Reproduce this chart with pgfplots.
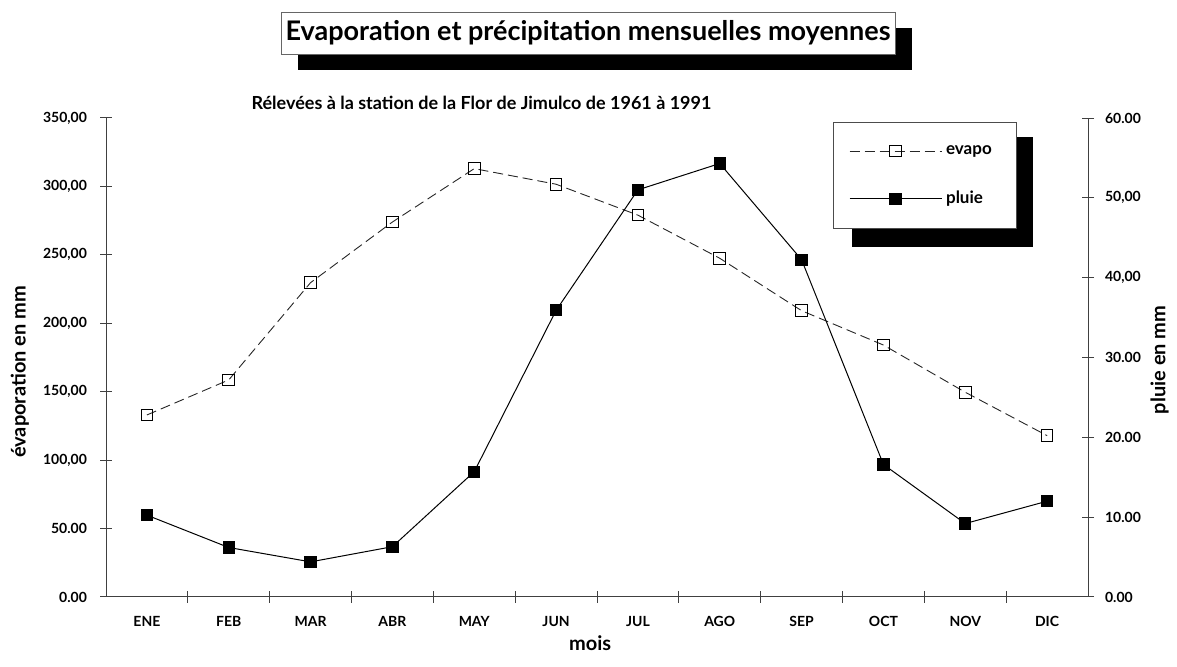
\documentclass[border=0pt]{standalone}
\usepackage{fontspec}
\setmainfont{Lato}
\usepackage{pgfplots}
\pgfplotsset{compat=1.18}
\usetikzlibrary{shadows}

\pgfplotsset{
  base/.style={
    scale only axis, width=491pt, height=239.5pt,
    xmin=-0.5, xmax=11.5,
    at={(53pt,35pt)}, anchor=south west,
    tick align=center, major tick length=6pt, minor tick length=6pt,
    axis line style={black!75, line width=0.5pt},
    tick style={black!75, line width=0.5pt},
    tick label style={font=\bfseries\fontsize{7}{8}\selectfont},
  },
  evapostyle/.style={black!85, line width=0.45pt, dash pattern=on 5pt off 2.5pt,
    mark=square, mark size=2.9pt, mark options={solid, fill=white, draw=black, line width=0.5pt}},
  pluiestyle/.style={black, line width=0.5pt,
    mark=square*, mark size=2.8pt, mark options={solid, fill=black}},
}

\begin{document}
\begin{tikzpicture}
\path[use as bounding box] (0,0) rectangle (588.5pt,333.5pt);

\begin{axis}[base,
  axis x line*=bottom, axis y line*=left,
  ymin=0, ymax=350,
  ytick={0,50,100,150,200,250,300,350},
  yticklabels={{0.00},{50.00},{100,00},{150,00},{200,00},{250,00},{300,00},{350,00}},
  yticklabel style={xshift=-3pt},
  xtick={0,1,2,3,4,5,6,7,8,9,10,11},
  xticklabels={ENE,FEB,MAR,ABR,MAY,JUN,JUL,AGO,SEP,OCT,NOV,DIC},
  xticklabel style={yshift=-3pt},
  major x tick style={draw=none},
  minor xtick={0.5,1.5,2.5,3.5,4.5,5.5,6.5,7.5,8.5,9.5,10.5},
  xlabel={mois},
  ylabel={évaporation en mm},
  every axis x label/.style={at={(axis description cs:0.493,-0.096)}, anchor=center,
    font=\bfseries\fontsize{10}{12}\selectfont},
  every axis y label/.style={at={(axis description cs:-0.0876,0.47)}, rotate=90, anchor=center,
    font=\bfseries\fontsize{10}{12}\selectfont},
]
\addplot[evapostyle] coordinates {
  (0,133.0) (1,158.6) (2,229.7) (3,274.0) (4,313.0) (5,301.6)
  (6,279.0) (7,247.5) (8,209.2) (9,184.1) (10,149.6) (11,117.9)
};
\end{axis}

% legend frame and its shadow
\fill[black] (426pt,210pt) rectangle (516.5pt,265pt);
\filldraw[draw=black!70, line width=0.4pt, fill=white] (416.5pt,219.5pt) rectangle (508pt,272.5pt);

\begin{axis}[base,
  hide x axis,
  axis y line*=right,
  ymin=0, ymax=60,
  ytick={0,10,20,30,40,50,60},
  yticklabels={{0.00},{10.00},{20.00},{30.00},{40,00},{50,00},{60.00}},
  yticklabel style={xshift=2pt},
  ylabel={pluie en mm},
  every axis y label/.style={at={(axis description cs:1.073,0.495)}, rotate=90, anchor=center,
    font=\bfseries\fontsize{10}{12}\selectfont},
  legend style={at={(0.740,0.992)}, anchor=north west,
    draw=none, fill=none,
    font=\bfseries\fontsize{8.5}{10}\selectfont,
    inner xsep=8pt, inner ysep=9.5pt, row sep=13pt},
  legend cell align=left,
  legend image code/.code={\draw[mark repeat=2,mark phase=2,#1] plot coordinates {(0pt,0pt) (23pt,0pt) (46pt,0pt)};},
]
\addlegendimage{evapostyle}
\addlegendentry{evapo}
\addplot[pluiestyle] coordinates {
  (0,10.25) (1,6.2) (2,4.4) (3,6.3) (4,15.7) (5,35.9)
  (6,51.0) (7,54.3) (8,42.25) (9,16.6) (10,9.2) (11,12.0)
};
\addlegendentry{pluie}
\end{axis}

\node[draw=black!60, line width=0.4pt, fill=white, minimum width=307pt, minimum height=21pt,
  inner sep=0pt, font=\bfseries\fontsize{13.5}{15}\selectfont,
  drop shadow={shadow xshift=8.5pt, shadow yshift=-8pt, fill=black, opacity=1}]
  at (294pt,317pt) {Evaporation et précipitation mensuelles moyennes};

\node[font=\bfseries\fontsize{9}{10}\selectfont] at (240.75pt,282pt)
  {Rélevées à la station de la Flor de Jimulco de 1961 à 1991};
\end{tikzpicture}
\end{document}
